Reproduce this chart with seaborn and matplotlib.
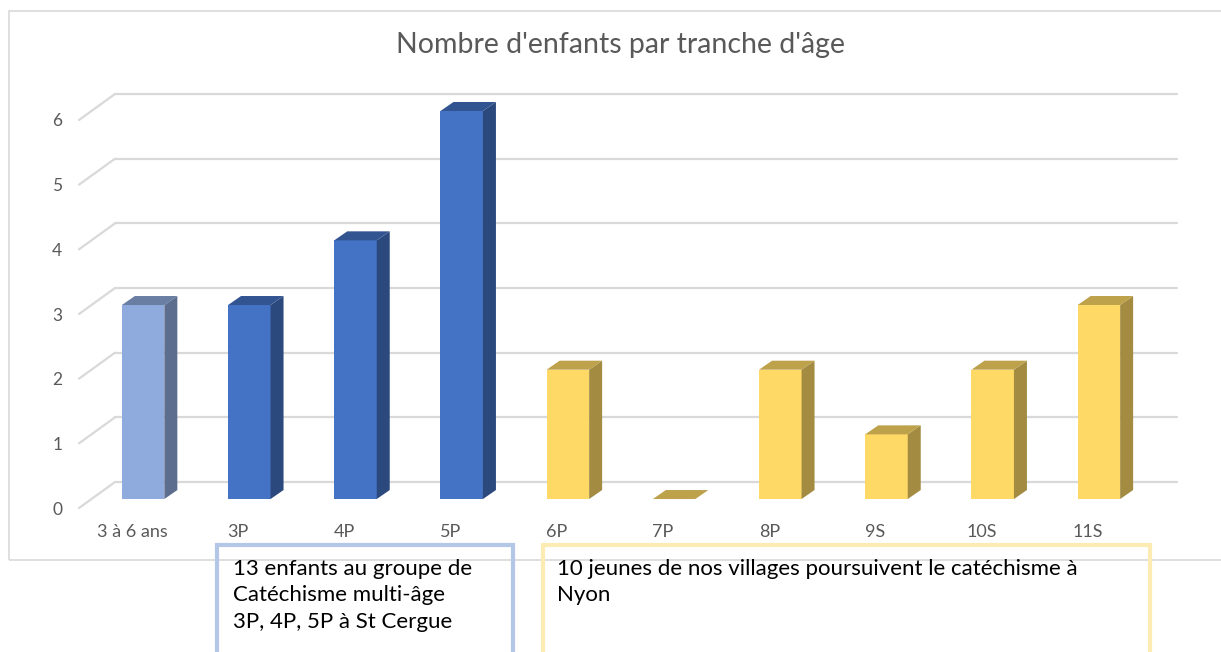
import numpy as np
import seaborn as sns
from matplotlib import pyplot as plt
from matplotlib.patches import Polygon, Rectangle
import matplotlib.colors as mcolors

sns.set_style("white")
plt.rcParams["font.family"] = ["Lato", "DejaVu Sans"]

# données du graphique
categories = ["3 à 6 ans", "3P", "4P", "5P", "6P", "7P", "8P", "9S", "10S", "11S"]
counts = [3, 3, 4, 6, 2, 0, 2, 1, 2, 3]
groups = ["eveil", "st_cergue", "st_cergue", "st_cergue",
          "nyon", "nyon", "nyon", "nyon", "nyon", "nyon"]
group_colors = {"eveil": "#8FAADC", "st_cergue": "#4472C4", "nyon": "#FFD966"}
y_ticks = [0, 1, 2, 3, 4, 5, 6]

title = "Nombre d'enfants par tranche d'âge"
note_left = "13 enfants au groupe de\nCatéchisme multi-âge\n3P, 4P, 5P à St Cergue"
note_right = "10 jeunes de nos villages poursuivent le catéchisme à\nNyon"

W, H = 1221, 652
fig = plt.figure(figsize=(W / 100, H / 100), dpi=100)

# zone du graphe (plan avant des barres)
y_top, y_bot = 111, 515.2
ax = fig.add_axes([90 / W, (H - y_bot) / H, 1062 / W, (y_bot - y_top) / H])
ax.patch.set_alpha(0)

sns.barplot(x=categories, y=counts, hue=groups, palette=group_colors, width=0.4,
            dodge=False, legend=False, saturation=1, linewidth=0, ax=ax, zorder=3)
ax.set_xlim(-0.5, 9.5)
ax.set_ylim(-0.25, 6)
sns.despine(ax=ax, left=True, bottom=True)

# conversion pixels -> unités de données
p0 = ax.transData.transform((0, 0))
p1 = ax.transData.transform((1, 1))
sx, sy = p1[0] - p0[0], p1[1] - p0[1]
bar_dx, bar_dy = 13 / sx, 9 / sy
wall_dx, wall_dy = 25 / sx, 17 / sy
front_dx, front_dy = -11 / sx, -9 / sy

# grille sur le mur du fond + diagonales à gauche
grid_c = "#D9D9D9"
x0, x1 = ax.get_xlim()
for v in y_ticks:
    ax.plot([x0 + wall_dx, x1 + wall_dx], [v + wall_dy, v + wall_dy],
            color=grid_c, lw=1.6, zorder=0.5, clip_on=False)
    ax.plot([x0 + front_dx, x0 + wall_dx], [v + front_dy, v + wall_dy],
            color=grid_c, lw=1.6, zorder=0.5, clip_on=False)

# faces latérales et supérieures (effet 3D)
for p in list(ax.patches):
    x, w, h = p.get_x(), p.get_width(), p.get_height()
    rgb = np.array(mcolors.to_rgb(p.get_facecolor()))
    side = Polygon([(x + w, 0), (x + w + bar_dx, bar_dy), (x + w + bar_dx, h + bar_dy), (x + w, h)],
                   closed=True, facecolor=rgb * 0.64, edgecolor="none", zorder=3, clip_on=False)
    top = Polygon([(x, h), (x + bar_dx, h + bar_dy), (x + w + bar_dx, h + bar_dy), (x + w, h)],
                  closed=True, facecolor=rgb * 0.74, edgecolor="none", zorder=3, clip_on=False)
    ax.add_patch(side)
    ax.add_patch(top)

# étiquettes placées sur le bord avant du "sol"
ax.set_xticks([i + front_dx for i in range(len(categories))], labels=categories)
ax.set_yticks([v + front_dy for v in y_ticks], labels=[str(v) for v in y_ticks])
ax.tick_params(axis="y", length=0, pad=20, labelsize=12.5, labelcolor="#595959")
ax.tick_params(axis="x", length=0, pad=6, labelsize=13, labelcolor="#595959")
ax.set_xlabel("")
ax.set_ylabel("")

fig.text(621 / W, 1 - 45 / H, title, ha="center", va="center", fontsize=20.5, color="#595959")

# cadre du graphique
fig.patches.append(Rectangle((9 / W, (H - 560) / H), (W + 5 - 9) / W, (560 - 11) / H,
                             transform=fig.transFigure, fill=False, edgecolor="#D9D9D9", lw=1.2))

# encadrés de texte
fig.patches.append(Rectangle((217 / W, -20 / H), (513 - 217) / W, (H - 545 + 20) / H,
                             transform=fig.transFigure, fill=False, edgecolor="#B4C7E7", lw=3))
fig.patches.append(Rectangle((543 / W, -20 / H), (1150 - 543) / W, (H - 545 + 20) / H,
                             transform=fig.transFigure, fill=False, edgecolor="#FCEBB3", lw=3))
fig.text(233 / W, 1 - 559 / H, note_left, ha="left", va="top", fontsize=16,
         color="black", linespacing=1.4)
fig.text(557 / W, 1 - 559 / H, note_right, ha="left", va="top", fontsize=16,
         color="black", linespacing=1.4)

fig.savefig("out.png", dpi=100)
